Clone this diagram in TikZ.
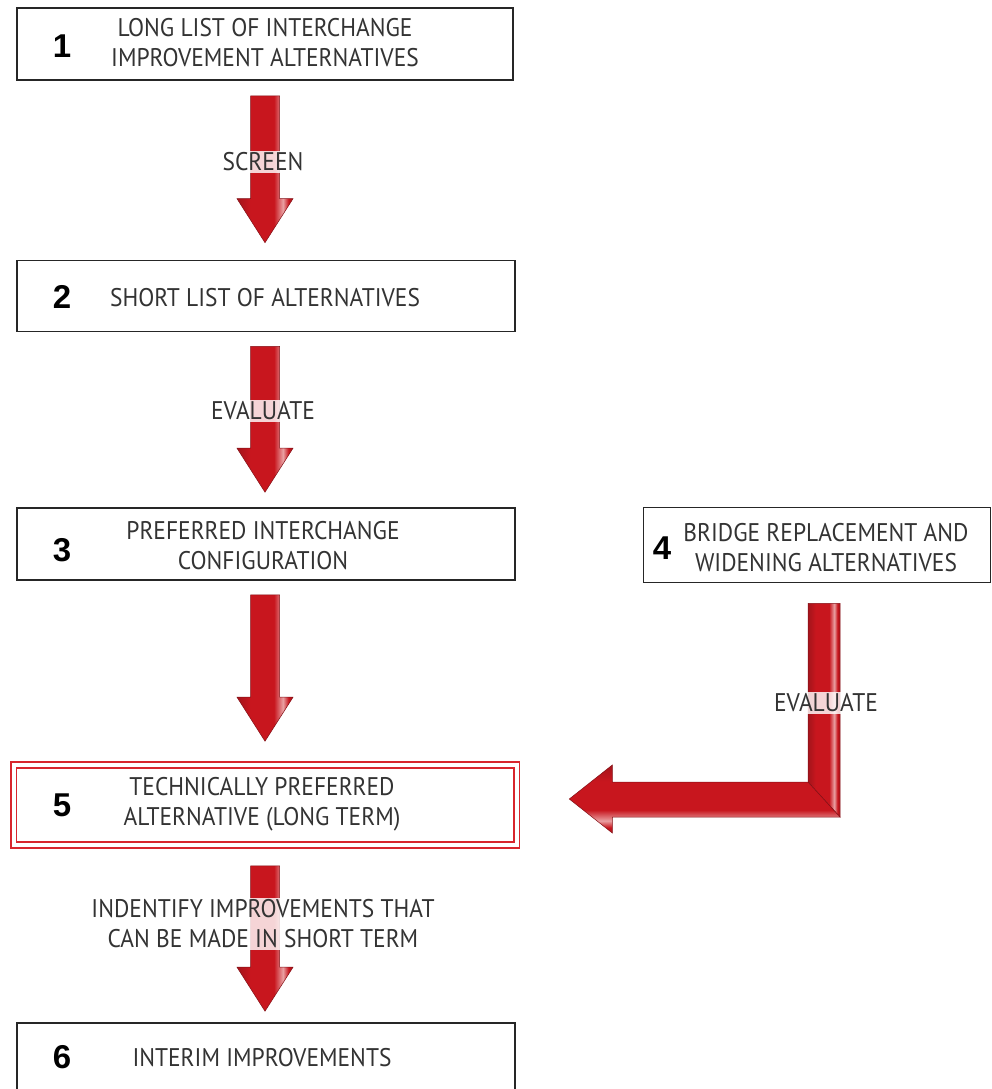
\documentclass[tikz,border=0pt]{standalone}
\usepackage{fontspec}
\setmainfont[FakeStretch=0.92]{PT Sans}
\newfontfamily\numfont{Liberation Sans}
\usetikzlibrary{calc}
\definecolor{fdark}{HTML}{A3141B}
\definecolor{fmid}{HTML}{C8161E}
\definecolor{flight}{HTML}{E9A0A2}
\definecolor{frame}{HTML}{D8262D}
\pgfdeclarehorizontalshading{flowh}{100bp}{color(0bp)=(fdark); color(25bp)=(fdark); color(37bp)=(fmid); color(58bp)=(fmid); color(66bp)=(flight); color(71bp)=(fmid); color(75bp)=(fdark); color(100bp)=(fdark)}
\tikzset{
	stepbox/.style={draw=black!85,line width=1.6pt,fill=white,minimum width=496pt,minimum height=72pt,inner sep=0pt},
	steptext/.style={font=\fontsize{25.5}{30}\selectfont,text=black!80,align=center},
	stepnum/.style={font=\numfont\bfseries\fontsize{33}{33}\selectfont,inner sep=0pt},
	flowbody/.style={shading=flowh,draw=fdark!80!black,line width=0.5pt},
	flowlabel/.style={font=\fontsize{25.5}{30}\selectfont,text=black!80,align=center,fill=white,fill opacity=0.82,text opacity=1,inner sep=2pt}
}
% vertical block arrow: start point, tip point
\newcommand{\downflow}[2]{%
	\path[flowbody] let \p1=(#1), \p2=(#2) in
		(\x1-14.5pt,\y1) -- (\x1+14.5pt,\y1) -- (\x1+14.5pt,\y2+44pt) -- (\x1+28pt,\y2+44pt)
		-- (\x1,\y2) -- (\x1-28pt,\y2+44pt) -- (\x1-14.5pt,\y2+44pt) -- cycle;}
\begin{document}
\begin{tikzpicture}[x=1pt,y=-1pt]
	\useasboundingbox (0,0) rectangle (991,1089);
	\begin{scope}
	\clip (0,0) rectangle (991,1089);
	% boxes
	\node[stepbox] (b1) at (265,44) {};
	\node[stepbox,minimum width=498pt,minimum height=71pt] (b2) at (266,296) {};
	\node[stepbox,minimum width=498pt] (b3) at (266,544) {};
	\node[stepbox,minimum width=347pt,minimum height=75pt] (b4) at (817,545) {};
	\node[stepbox,draw=frame,line width=1.6pt,double=white,double distance=4pt,minimum width=503pt,minimum height=80pt] (b5) at (265,805) {};
	\node[stepbox,minimum width=498pt,minimum height=70pt] (b6) at (266,1058) {};
	% numbers
	\node[stepnum] (n1) at (62,46) {1};
	\node[stepnum] (n2) at (62,297) {2};
	\node[stepnum] (n3) at (62,550) {3};
	\node[stepnum] (n4) at (662,548) {4};
	\node[stepnum] (n5) at (62,805) {5};
	\node[stepnum] (n6) at (62,1057) {6};
	% texts
	\node[steptext] (t1) at (265,43) {LONG LIST OF INTERCHANGE\\IMPROVEMENT ALTERNATIVES};
	\node[steptext] (t2) at (265,298) {SHORT LIST OF ALTERNATIVES};
	\node[steptext] (t3) at (263,546) {PREFERRED INTERCHANGE\\CONFIGURATION};
	\node[steptext] (t4) at (826,548) {BRIDGE REPLACEMENT AND\\WIDENING ALTERNATIVES};
	\node[steptext] (t5) at (262,804) {TECHNICALLY PREFERRED\\ALTERNATIVE (LONG TERM)};
	\node[steptext] (t6) at (262,1058) {INTERIM IMPROVEMENTS};
	% arrows
	\coordinate (a1s) at ($(b1.south)+(0,15)$);
	\coordinate (a1e) at ($(b2.north)+(-1,-17)$);
	\coordinate (a2s) at ($(b2.south)+(-1,14)$);
	\coordinate (a2e) at ($(b3.north)+(-1,-15)$);
	\coordinate (a3s) at ($(b3.south)+(-1,14)$);
	\coordinate (a3e) at ($(b5.north)+(0,-23)$);
	\coordinate (a4s) at ($(b5.south)+(0,20)$);
	\coordinate (a4e) at ($(b6.north)+(0,-11)$);
	\downflow{a1s}{a1e}
	\downflow{a2s}{a2e}
	\downflow{a3s}{a3e}
	\downflow{a4s}{a4e}
	% bent arrow from 4 to 5
	\coordinate (a5s) at ($(b4.south)+(7,20)$);
	\coordinate (a5e) at ($(b5.east)+(52,-6)$);
	\path[flowbody] let \p1=(a5s), \p2=(a5e) in
		(\x1-16pt,\y1) -- (\x1+16pt,\y1) -- (\x1+16pt,\y2-18pt) -- (\x1-16pt,\y2+17pt) -- cycle;
	\path[flowbody,shading angle=-90] let \p1=(a5s), \p2=(a5e) in
		(\x1+16pt,\y2-18pt) -- (\x1-16pt,\y2+17pt) -- (\x2+43pt,\y2+17pt) -- (\x2+43pt,\y2+34pt)
		-- (\x2,\y2) -- (\x2+43pt,\y2-34pt) -- (\x2+43pt,\y2-18pt) -- cycle;
	% arrow labels
	\node[flowlabel] (l1) at (263,162) {SCREEN};
	\node[flowlabel] (l2) at (263,411) {EVALUATE};
	\node[flowlabel] (l3) at (826,703) {EVALUATE};
	\node[flowlabel] (l4) at (263,924) {INDENTIFY IMPROVEMENTS THAT\\CAN BE MADE IN SHORT TERM};
	\end{scope}
\end{tikzpicture}
\end{document}
